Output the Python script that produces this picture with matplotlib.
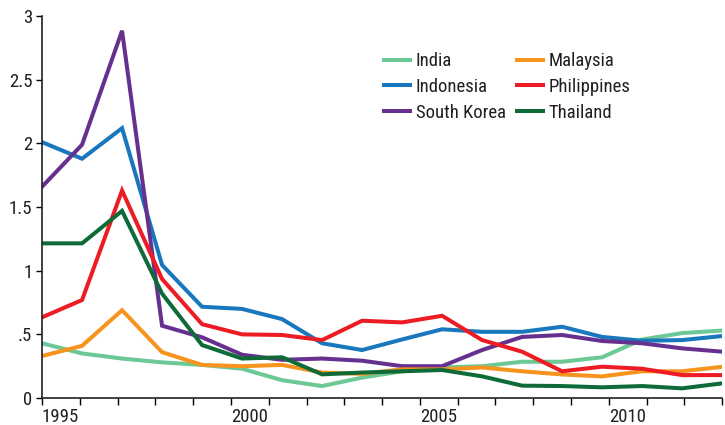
import numpy as np
import matplotlib
matplotlib.use('Agg')
import matplotlib.pyplot as plt

plt.rcParams['font.family'] = ['Liberation Sans Narrow', 'Roboto Condensed', 'Liberation Sans', 'DejaVu Sans']

# Data
years = list(range(1995, 2013))
india = [0.43, 0.35, 0.31, 0.28, 0.26, 0.23, 0.14, 0.094, 0.16, 0.21, 0.24, 0.25,
         0.285, 0.285, 0.32, 0.46, 0.51, 0.53]
indonesia = [2.01, 1.88, 2.12, 1.045, 0.717, 0.70, 0.62, 0.43, 0.377, 0.46, 0.54, 0.52,
             0.52, 0.56, 0.48, 0.45, 0.455, 0.487]
south_korea = [1.66, 1.99, 2.885, 0.568, 0.477, 0.34, 0.30, 0.31, 0.293, 0.25, 0.25, 0.377,
               0.48, 0.495, 0.448, 0.43, 0.39, 0.364]
malaysia = [0.33, 0.41, 0.69, 0.36, 0.26, 0.25, 0.26, 0.20, 0.19, 0.225, 0.225, 0.24,
            0.21, 0.185, 0.17, 0.21, 0.21, 0.245]
philippines = [0.634, 0.77, 1.63, 0.935, 0.58, 0.50, 0.495, 0.455, 0.607, 0.594, 0.646, 0.455,
               0.364, 0.21, 0.246, 0.23, 0.18, 0.18]
thailand = [1.215, 1.215, 1.47, 0.82, 0.416, 0.31, 0.32, 0.186, 0.20, 0.21, 0.22, 0.17,
            0.097, 0.094, 0.084, 0.094, 0.076, 0.115]

series = [
    ('India', india, '#6cc895'),
    ('Indonesia', indonesia, '#1877bd'),
    ('South Korea', south_korea, '#66308f'),
    ('Malaysia', malaysia, '#f7941d'),
    ('Philippines', philippines, '#ed1c24'),
    ('Thailand', thailand, '#0e6b38'),
]

fig = plt.figure(figsize=(7.25, 4.25), dpi=100)
ax = fig.add_axes([0.058, 0.0635, 0.938, 0.8985])

for name, vals, col in series:
    ax.plot(years, vals, color=col, lw=2.9, label=name, solid_joinstyle='miter')

ax.set_xlim(1995, 2012)
ax.set_ylim(0, 3)

# category-style ticks: 19 ticks across the 18 data points
tick_pos = [1995 + i * 17 / 18 for i in range(19)]
tick_lab = [str(1995 + i) if i % 5 == 0 else '' for i in range(19)]
ax.set_xticks(tick_pos)
ax.set_xticklabels(tick_lab, ha='left', fontsize=13.5, color='#231f20')
ax.set_yticks([0, 0.5, 1, 1.5, 2, 2.5, 3])
ax.set_yticklabels(['0', '.5', '1', '1.5', '2', '2.5', '3'], fontsize=13.5, color='#231f20')
ax.tick_params(axis='x', length=5, width=1, pad=2)
ax.tick_params(axis='y', length=4, width=1, pad=3)

for s in ['top', 'right']:
    ax.spines[s].set_visible(False)
for s in ['left', 'bottom']:
    ax.spines[s].set_linewidth(1.2)
    ax.spines[s].set_color('#231f20')

ax.legend(ncol=2, loc='upper left', bbox_to_anchor=(0.478, 0.95), frameon=False,
          fontsize=13.5, handlelength=1.4, columnspacing=0.6, labelspacing=0.42,
          handletextpad=0.3, labelcolor='#231f20')

fig.savefig('out.png', dpi=100)
